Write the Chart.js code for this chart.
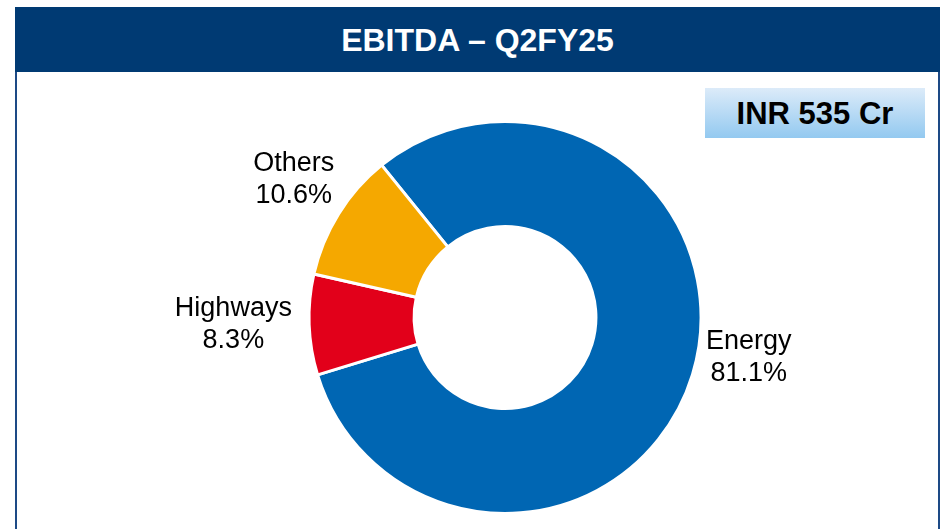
<!DOCTYPE html>
<html lang="en">
<head>
<meta charset="UTF-8" />
<title>EBITDA – Q2FY25</title>
<style>
  body{margin:0;padding:0;background:#fff;font-family:"Liberation Sans",Arial,sans-serif;width:943px;height:529px;overflow:hidden;position:relative;}
  .panel{position:absolute;left:15px;top:7px;width:921px;height:560px;border:2px solid #1d4a86;border-top:none;box-sizing:content-box;}
  .head{position:absolute;left:15px;top:7px;width:925px;height:65px;background:#003a73;color:#fff;font-weight:bold;font-size:32px;text-align:center;line-height:66px;}
  .badge{position:absolute;left:705px;top:88px;width:220px;height:50px;background:linear-gradient(#dcebf9,#93c9f0);font-weight:bold;font-size:31px;text-align:center;line-height:51px;color:#000;}
  #wrap{position:absolute;left:115px;top:120px;width:780px;height:395px;}
</style>
<script src="https://cdn.jsdelivr.net/npm/chart.js"></script>
</head>
<body>
<div class="panel"></div>
<div class="head">EBITDA – Q2FY25</div>
<div class="badge">INR 535 Cr</div>
<div id="wrap"><canvas id="chart"></canvas></div>

<script>
/* data */
const segments = ['Energy','Highways','Others'];
const shares   = [81.1, 8.3, 10.6];
const colors   = ['#0066b3','#e2001a','#f5a800'];

/* outside labels: name + % */
const outLabels = {
  id:'outLabels',
  afterDatasetsDraw(chart, args, opts){
    const {ctx} = chart;
    const arcs = chart.getDatasetMeta(0).data;
    ctx.save();
    ctx.font = '27px "Liberation Sans", Arial, sans-serif';
    ctx.fillStyle = '#000';
    ctx.textAlign = 'center';
    ctx.textBaseline = 'middle';
    arcs.forEach((a,i)=>{
      const mid = (a.startAngle + a.endAngle)/2;
      const r = a.outerRadius*opts.dist;
      const n = opts.nudge[i] || [0,0];
      const x = a.x + Math.cos(mid)*r + n[0];
      const y = a.y + Math.sin(mid)*r + n[1];
      ctx.fillText(segments[i], x, y-16);
      ctx.fillText(shares[i].toFixed(1)+'%', x, y+16);
    });
    ctx.restore();
  }
};

new Chart(document.getElementById('chart'),{
  type:'doughnut',
  data:{labels:segments,datasets:[{data:shares,backgroundColor:colors,borderColor:'#fff',borderWidth:3}]},
  options:{
    responsive:true,maintainAspectRatio:false,animation:false,
    rotation:-39,cutout:'46.4%',
    layout:{padding:0},
    plugins:{legend:{display:false},tooltip:{enabled:false},
      outLabels:{dist:1.3,nudge:[[0,-34],[-17,-2],[5,-3]]}}
  },
  plugins:[outLabels]
});
</script>
</body>
</html>
